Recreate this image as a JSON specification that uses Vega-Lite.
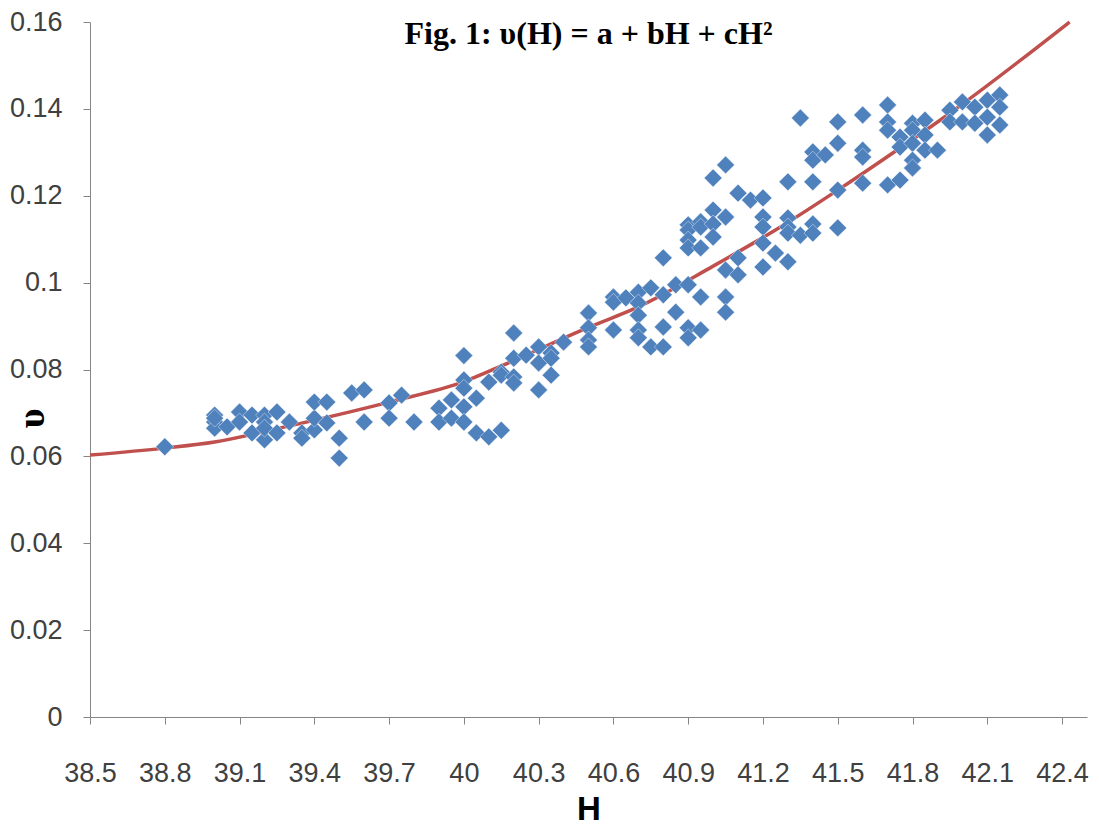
{
  "$schema": "https://vega.github.io/schema/vega-lite/v6.json",
  "width": 997,
  "height": 695,
  "autosize": {"type": "none"},
  "padding": {"left": 90, "top": 22, "right": 12, "bottom": 108},
  "background": "white",
  "title": {
    "text": "Fig. 1: υ(H) = a + bH + cH²",
    "font": "Liberation Serif",
    "fontSize": 32,
    "fontWeight": "bold",
    "color": "#000000",
    "anchor": "middle",
    "baseline": "alphabetic",
    "offset": -68
  },
  "config": {
    "view": {"stroke": null},
    "axis": {
      "grid": false,
      "domainColor": "#868686",
      "tickColor": "#868686",
      "labelFont": "Liberation Sans",
      "labelFontSize": 27,
      "labelColor": "#404040",
      "tickSize": 7
    }
  },
  "datasets": {
    "pts": [
      {"H": 38.8, "v": 0.0622},
      {"H": 39.0, "v": 0.0695}, {"H": 39.0, "v": 0.0679}, {"H": 39.0, "v": 0.0665}, {"H": 39.0, "v": 0.0688},
      {"H": 39.05, "v": 0.0668},
      {"H": 39.1, "v": 0.0702}, {"H": 39.1, "v": 0.0679},
      {"H": 39.15, "v": 0.0695}, {"H": 39.15, "v": 0.0654},
      {"H": 39.2, "v": 0.0695}, {"H": 39.2, "v": 0.0679}, {"H": 39.2, "v": 0.0638}, {"H": 39.2, "v": 0.0665},
      {"H": 39.25, "v": 0.0702}, {"H": 39.25, "v": 0.0654},
      {"H": 39.3, "v": 0.0679},
      {"H": 39.35, "v": 0.0654}, {"H": 39.35, "v": 0.0642},
      {"H": 39.4, "v": 0.0661}, {"H": 39.4, "v": 0.0688}, {"H": 39.4, "v": 0.0725},
      {"H": 39.45, "v": 0.0725}, {"H": 39.45, "v": 0.0677},
      {"H": 39.5, "v": 0.0642}, {"H": 39.5, "v": 0.0596},
      {"H": 39.55, "v": 0.0746},
      {"H": 39.6, "v": 0.0753}, {"H": 39.6, "v": 0.0679},
      {"H": 39.7, "v": 0.0723}, {"H": 39.7, "v": 0.0688},
      {"H": 39.75, "v": 0.0741},
      {"H": 39.8, "v": 0.0679},
      {"H": 39.9, "v": 0.0711}, {"H": 39.9, "v": 0.0679},
      {"H": 39.95, "v": 0.073}, {"H": 39.95, "v": 0.0688},
      {"H": 40.0, "v": 0.0832}, {"H": 40.0, "v": 0.0776}, {"H": 40.0, "v": 0.0757}, {"H": 40.0, "v": 0.0714}, {"H": 40.0, "v": 0.0679},
      {"H": 40.05, "v": 0.0734}, {"H": 40.05, "v": 0.0654},
      {"H": 40.1, "v": 0.0771}, {"H": 40.1, "v": 0.0645},
      {"H": 40.15, "v": 0.0794}, {"H": 40.15, "v": 0.0787}, {"H": 40.15, "v": 0.066},
      {"H": 40.2, "v": 0.0884}, {"H": 40.2, "v": 0.0826}, {"H": 40.2, "v": 0.0783}, {"H": 40.2, "v": 0.0769},
      {"H": 40.25, "v": 0.0833},
      {"H": 40.3, "v": 0.0852}, {"H": 40.3, "v": 0.0815}, {"H": 40.3, "v": 0.0753},
      {"H": 40.35, "v": 0.0838}, {"H": 40.35, "v": 0.0826}, {"H": 40.35, "v": 0.0787},
      {"H": 40.4, "v": 0.0863},
      {"H": 40.5, "v": 0.093}, {"H": 40.5, "v": 0.0896}, {"H": 40.5, "v": 0.0868}, {"H": 40.5, "v": 0.0852},
      {"H": 40.6, "v": 0.0967}, {"H": 40.6, "v": 0.0955}, {"H": 40.6, "v": 0.0891},
      {"H": 40.65, "v": 0.0965},
      {"H": 40.7, "v": 0.0978}, {"H": 40.7, "v": 0.0953}, {"H": 40.7, "v": 0.0925}, {"H": 40.7, "v": 0.0891}, {"H": 40.7, "v": 0.0873},
      {"H": 40.75, "v": 0.0988}, {"H": 40.75, "v": 0.0852},
      {"H": 40.8, "v": 0.1057}, {"H": 40.8, "v": 0.0972}, {"H": 40.8, "v": 0.0898}, {"H": 40.8, "v": 0.0852},
      {"H": 40.85, "v": 0.0995}, {"H": 40.85, "v": 0.0932},
      {"H": 40.9, "v": 0.1133}, {"H": 40.9, "v": 0.1121}, {"H": 40.9, "v": 0.1098}, {"H": 40.9, "v": 0.108}, {"H": 40.9, "v": 0.0995}, {"H": 40.9, "v": 0.0896}, {"H": 40.9, "v": 0.0873},
      {"H": 40.95, "v": 0.114}, {"H": 40.95, "v": 0.1128}, {"H": 40.95, "v": 0.108}, {"H": 40.95, "v": 0.0967}, {"H": 40.95, "v": 0.0891},
      {"H": 41.0, "v": 0.1241}, {"H": 41.0, "v": 0.1167}, {"H": 41.0, "v": 0.1135}, {"H": 41.0, "v": 0.1105},
      {"H": 41.05, "v": 0.1271}, {"H": 41.05, "v": 0.1151}, {"H": 41.05, "v": 0.1029}, {"H": 41.05, "v": 0.0967}, {"H": 41.05, "v": 0.0932},
      {"H": 41.1, "v": 0.1206}, {"H": 41.1, "v": 0.1057}, {"H": 41.1, "v": 0.1018},
      {"H": 41.15, "v": 0.119},
      {"H": 41.2, "v": 0.1195}, {"H": 41.2, "v": 0.1151}, {"H": 41.2, "v": 0.1128}, {"H": 41.2, "v": 0.1091}, {"H": 41.2, "v": 0.1036},
      {"H": 41.25, "v": 0.1068},
      {"H": 41.3, "v": 0.1232}, {"H": 41.3, "v": 0.1149}, {"H": 41.3, "v": 0.1128}, {"H": 41.3, "v": 0.1114}, {"H": 41.3, "v": 0.1048},
      {"H": 41.35, "v": 0.1379}, {"H": 41.35, "v": 0.1109},
      {"H": 41.4, "v": 0.1301}, {"H": 41.4, "v": 0.1282}, {"H": 41.4, "v": 0.1232}, {"H": 41.4, "v": 0.1135}, {"H": 41.4, "v": 0.1114},
      {"H": 41.45, "v": 0.1294},
      {"H": 41.5, "v": 0.137}, {"H": 41.5, "v": 0.1321}, {"H": 41.5, "v": 0.1213}, {"H": 41.5, "v": 0.1126},
      {"H": 41.6, "v": 0.1386}, {"H": 41.6, "v": 0.1305}, {"H": 41.6, "v": 0.1289}, {"H": 41.6, "v": 0.1229},
      {"H": 41.7, "v": 0.1409}, {"H": 41.7, "v": 0.137}, {"H": 41.7, "v": 0.1351}, {"H": 41.7, "v": 0.1225},
      {"H": 41.75, "v": 0.1335}, {"H": 41.75, "v": 0.1312}, {"H": 41.75, "v": 0.1236},
      {"H": 41.8, "v": 0.1367}, {"H": 41.8, "v": 0.1351}, {"H": 41.8, "v": 0.1321}, {"H": 41.8, "v": 0.1282}, {"H": 41.8, "v": 0.1264},
      {"H": 41.85, "v": 0.1374}, {"H": 41.85, "v": 0.134}, {"H": 41.85, "v": 0.1305},
      {"H": 41.9, "v": 0.1305},
      {"H": 41.95, "v": 0.1397}, {"H": 41.95, "v": 0.137},
      {"H": 42.0, "v": 0.1416}, {"H": 42.0, "v": 0.137},
      {"H": 42.05, "v": 0.1404}, {"H": 42.05, "v": 0.1367},
      {"H": 42.1, "v": 0.142}, {"H": 42.1, "v": 0.1381}, {"H": 42.1, "v": 0.134},
      {"H": 42.15, "v": 0.1432}, {"H": 42.15, "v": 0.1404}, {"H": 42.15, "v": 0.1363}
    ],
    "fit": [
      {"H": 38.5, "v": 0.0603},
      {"H": 38.8, "v": 0.0619},
      {"H": 39.0, "v": 0.0633},
      {"H": 39.26, "v": 0.0665},
      {"H": 39.7, "v": 0.0725},
      {"H": 40.0, "v": 0.0772},
      {"H": 40.13, "v": 0.0803},
      {"H": 40.5, "v": 0.0897},
      {"H": 40.7, "v": 0.0944},
      {"H": 41.0, "v": 0.1038},
      {"H": 41.27, "v": 0.1128},
      {"H": 41.5, "v": 0.1213},
      {"H": 41.75, "v": 0.131},
      {"H": 41.94, "v": 0.1386},
      {"H": 42.43, "v": 0.16}
    ]
  },
  "layer": [
    {
      "data": {"name": "fit"},
      "mark": {"type": "line", "color": "#C0504D", "strokeWidth": 3.5, "interpolate": "monotone"},
      "encoding": {
        "x": {
          "field": "H", "type": "quantitative",
          "scale": {"domain": [38.5, 42.5], "nice": false, "zero": false},
          "axis": {
            "values": [38.5, 38.8, 39.1, 39.4, 39.7, 40.0, 40.3, 40.6, 40.9, 41.2, 41.5, 41.8, 42.1, 42.4],
            "format": ".1~f",
            "labelPadding": 36,
            "labelFlush": false,
            "labelOverlap": false,
            "title": "H",
            "titleFont": "Liberation Sans",
            "titleFontSize": 33,
            "titleFontWeight": "bold",
            "titleColor": "#000000",
            "titleBaseline": "alphabetic",
            "titleY": 102
          }
        },
        "y": {
          "field": "v", "type": "quantitative",
          "scale": {"domain": [0, 0.16], "nice": false},
          "axis": {
            "values": [0, 0.02, 0.04, 0.06, 0.08, 0.1, 0.12, 0.14, 0.16],
            "format": ".2~f",
            "labelPadding": 21,
            "labelFlush": false,
            "title": "υ",
            "titleFont": "Liberation Serif",
            "titleFontSize": 38,
            "titleFontWeight": "bold",
            "titleColor": "#000000",
            "titleAngle": -90,
            "titleX": -58,
            "titleY": 396,
            "titleAlign": "center",
            "titleBaseline": "middle"
          }
        }
      }
    },
    {
      "data": {"name": "pts"},
      "mark": {"type": "point", "shape": "diamond", "filled": true, "size": 320, "color": "#4F81BD", "opacity": 1, "stroke": "#ffffff", "strokeWidth": 0.6, "strokeOpacity": 0.7},
      "encoding": {
        "x": {"field": "H", "type": "quantitative"},
        "y": {"field": "v", "type": "quantitative"}
      }
    }
  ]
}
